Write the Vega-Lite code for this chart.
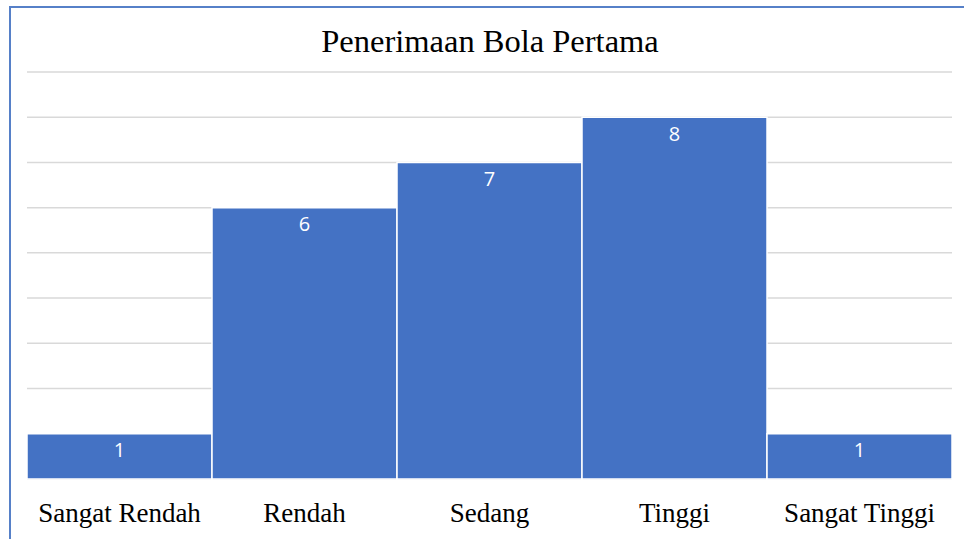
{
  "$schema": "https://vega.github.io/schema/vega-lite/v6.json",
  "width": 960,
  "height": 540,
  "autosize": {"type": "none"},
  "padding": {"left": 10, "top": 7, "right": 0, "bottom": 0},
  "background": "white",
  "config": {"view": {"stroke": "#5680c8", "strokeWidth": 2}},
  "title": {
    "text": "Penerimaan Bola Pertama",
    "font": "Liberation Serif",
    "fontSize": 32.5,
    "fontWeight": "normal",
    "color": "#000000",
    "anchor": "middle",
    "baseline": "alphabetic",
    "offset": -32,
    "dy": 45
  },
  "datasets": {
    "bars": [
      {"kategori": "Sangat Rendah", "jumlah": 1},
      {"kategori": "Rendah", "jumlah": 6},
      {"kategori": "Sedang", "jumlah": 7},
      {"kategori": "Tinggi", "jumlah": 8},
      {"kategori": "Sangat Tinggi", "jumlah": 1}
    ],
    "grid": [
      {"nilai": 0, "awal": "Sangat Rendah", "akhir": "Sangat Tinggi"},
      {"nilai": 1, "awal": "Sangat Rendah", "akhir": "Sangat Tinggi"},
      {"nilai": 2, "awal": "Sangat Rendah", "akhir": "Sangat Tinggi"},
      {"nilai": 3, "awal": "Sangat Rendah", "akhir": "Sangat Tinggi"},
      {"nilai": 4, "awal": "Sangat Rendah", "akhir": "Sangat Tinggi"},
      {"nilai": 5, "awal": "Sangat Rendah", "akhir": "Sangat Tinggi"},
      {"nilai": 6, "awal": "Sangat Rendah", "akhir": "Sangat Tinggi"},
      {"nilai": 7, "awal": "Sangat Rendah", "akhir": "Sangat Tinggi"},
      {"nilai": 8, "awal": "Sangat Rendah", "akhir": "Sangat Tinggi"},
      {"nilai": 9, "awal": "Sangat Rendah", "akhir": "Sangat Tinggi"}
    ]
  },
  "layer": [
    {
      "data": {"name": "grid"},
      "mark": {"type": "rule", "color": "#d9d9d9", "strokeWidth": 1.5},
      "encoding": {
        "x": {
          "field": "awal",
          "type": "nominal",
          "bandPosition": 0,
          "scale": {
            "type": "band",
            "domain": ["Sangat Rendah", "Rendah", "Sedang", "Tinggi", "Sangat Tinggi"],
            "paddingInner": 0,
            "paddingOuter": 0.0946,
            "align": 0.486
          },
          "axis": null
        },
        "x2": {"field": "akhir", "bandPosition": 1},
        "y": {
          "field": "nilai",
          "type": "quantitative",
          "scale": {"domain": [-1.504, 10.437], "nice": false, "zero": false},
          "axis": null
        }
      }
    },
    {
      "data": {"name": "bars"},
      "mark": {"type": "bar", "color": "#4472C4", "stroke": "#ffffff", "strokeWidth": 1.5},
      "encoding": {
        "x": {"field": "kategori", "type": "nominal", "axis": null},
        "y": {"field": "jumlah", "type": "quantitative", "axis": null},
        "y2": {"datum": 0}
      }
    },
    {
      "data": {"name": "bars"},
      "mark": {"type": "text", "color": "#ffffff", "font": "Open Sans", "fontSize": 20, "baseline": "middle", "dy": 17.5},
      "encoding": {
        "x": {"field": "kategori", "type": "nominal", "axis": null},
        "y": {"field": "jumlah", "type": "quantitative", "axis": null},
        "text": {"field": "jumlah", "type": "quantitative"}
      }
    },
    {
      "data": {"name": "bars"},
      "mark": {"type": "text", "color": "#000000", "font": "Liberation Serif", "fontSize": 27, "baseline": "alphabetic"},
      "encoding": {
        "x": {"field": "kategori", "type": "nominal", "axis": null},
        "y": {"datum": -0.95},
        "text": {"field": "kategori", "type": "nominal"}
      }
    }
  ]
}
